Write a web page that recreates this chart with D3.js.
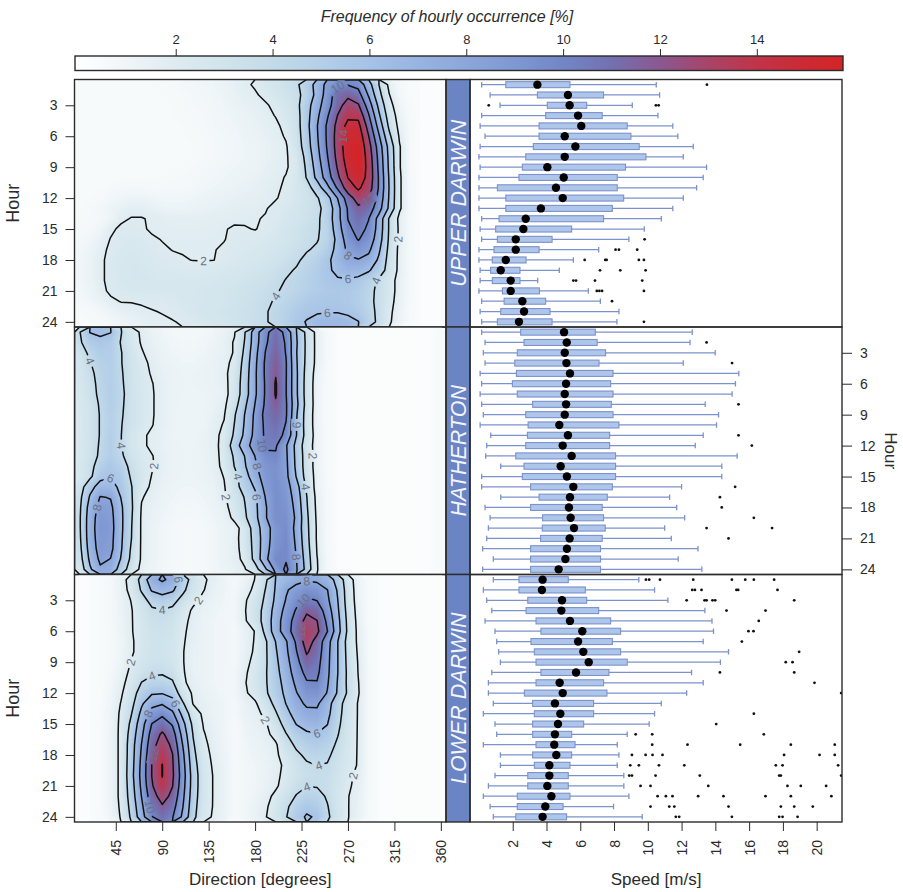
<!DOCTYPE html>
<html>
<head>
<meta charset="utf-8">
<script src="https://cdn.jsdelivr.net/npm/d3@7/dist/d3.min.js"></script>
<style>
  html, body { margin: 0; padding: 0; background: #ffffff; }
  svg { display: block; font-family: "Liberation Sans", Arial, Helvetica, sans-serif; }
</style>
</head>
<body>
<svg id="chart" width="903" height="892"></svg>
<script>
// ---------- categories & ticks ----------
const siteNames = ["UPPER DARWIN", "HATHERTON", "LOWER DARWIN"];
const directionBins = [10,20,30,40,50,60,70,80,90,100,110,120,130,140,150,160,170,180,
                       190,200,210,220,230,240,250,260,270,280,290,300,310,320,330,340,350,360];
const hourBins = [1,2,3,4,5,6,7,8,9,10,11,12,13,14,15,16,17,18,19,20,21,22,23,24];
const directionTicks = [45, 90, 135, 180, 225, 270, 315, 360];
const hourTicks = [3, 6, 9, 12, 15, 18, 21, 24];
const speedTicks = [2, 4, 6, 8, 10, 12, 14, 16, 18, 20];
const legendTicks = [2, 4, 6, 8, 10, 12, 14];
const contourLevels = [2, 4, 6, 8, 10, 12, 14];

// ---------- frequency of hourly occurrence [%], rows = hour 1..24, cols = direction 10..360 ----------
const freqUpperDarwin = [
 [0.5,0.5,0.5,0.5,0.5,0.5,0.6,0.6,0.7,0.7,0.8,0.9,1.0,1.1,1.3,1.5,1.85, 2.1,2.5,2.9,3.3,3.7,4.9,6.7,8.6,9.7,9.9,9.4,6.8,4.0,1.6,0.8,0.5,0.4,0.3,0.4],
 [0.5,0.5,0.5,0.5,0.5,0.5,0.6,0.6,0.6,0.7,0.7,0.8,0.9,1.0,1.2,1.4,1.7, 1.9,2.2,2.6,3.05,3.5,4.7,6.6,8.9,11.05,11.6,10.8,7.8,4.6,2.05,0.9,0.5,0.4,0.3,0.4],
 [0.5,0.5,0.5,0.5,0.5,0.5,0.5,0.6,0.6,0.6,0.7,0.8,0.9,1.0,1.1,1.3,1.5, 1.6,1.9,2.2,2.7,3.5,5.2,7.2,9.2,11.3,12.8,12.2,9.05,5.5,2.5,1.1,0.6,0.4,0.3,0.4],
 [0.5,0.5,0.5,0.5,0.5,0.5,0.5,0.5,0.6,0.6,0.7,0.7,0.8,0.9,1.0,1.2,1.3, 1.5,1.7,2.05,2.5,3.3,5.3,7.6,9.8,12.05,13.6,13.5,10.2,6.3,3.05,1.3,0.6,0.4,0.3,0.4],
 [0.5,0.5,0.5,0.5,0.5,0.5,0.5,0.5,0.6,0.6,0.6,0.7,0.8,0.9,1.0,1.1,1.3, 1.4,1.6,1.8,2.3,3.2,5.4,7.9,10.3,12.6,14.6,14.6,11.2,7.2,3.6,1.5,0.7,0.4,0.3,0.4],
 [0.5,0.5,0.5,0.5,0.5,0.5,0.5,0.5,0.5,0.6,0.6,0.7,0.7,0.8,0.9,1.0,1.2, 1.3,1.5,1.7,2.1,3.1,5.2,7.8,10.3,12.8,15.05,15.3,12.05,8.2,4.4,1.8,0.7,0.4,0.3,0.4],
 [0.5,0.5,0.5,0.5,0.5,0.5,0.5,0.5,0.5,0.6,0.6,0.6,0.7,0.8,0.9,1.0,1.1, 1.2,1.4,1.6,1.9,2.9,5.05,7.6,10.2,12.8,15.2,15.7,12.8,9.05,5.3,2.1,0.7,0.4,0.3,0.4],
 [0.5,0.5,0.5,0.5,0.5,0.5,0.5,0.5,0.5,0.6,0.6,0.6,0.7,0.8,0.9,1.0,1.1, 1.2,1.4,1.6,1.9,2.5,4.6,7.3,9.9,12.6,15.05,15.8,13.2,9.4,5.5,2.1,0.7,0.4,0.3,0.4],
 [0.5,0.5,0.5,0.5,0.5,0.5,0.5,0.5,0.6,0.6,0.6,0.7,0.8,0.9,1.0,1.1,1.2, 1.3,1.5,1.7,1.9,2.4,4.3,6.9,9.5,12.2,14.6,15.6,13.4,9.6,5.6,2.1,0.7,0.4,0.3,0.4],
 [0.5,0.5,0.5,0.5,0.6,0.6,0.6,0.6,0.6,0.7,0.7,0.8,0.9,1.0,1.1,1.2,1.3, 1.4,1.6,1.8,2.05,2.5,4.1,6.5,9.05,11.6,14.05,15.2,13.4,9.8,5.8,2.2,0.8,0.4,0.3,0.4],
 [0.5,0.5,0.6,0.7,0.8,0.8,0.8,0.7,0.7,0.8,0.8,0.9,1.0,1.1,1.2,1.3,1.4, 1.5,1.7,1.9,2.1,2.6,3.3,4.9,7.4,10.3,13.05,14.3,13.05,9.8,5.9,2.2,0.8,0.4,0.3,0.4],
 [0.5,0.6,0.7,0.9,1.1,1.2,1.2,1.1,1.0,1.0,1.0,1.1,1.2,1.3,1.4,1.5,1.6, 1.6,1.8,1.95,2.2,2.6,3.1,3.8,5.2,8.05,11.05,12.9,12.2,9.4,5.8,2.2,0.8,0.4,0.3,0.4],
 [0.6,0.7,0.9,1.2,1.5,1.7,1.7,1.5,1.3,1.2,1.2,1.3,1.4,1.5,1.6,1.7,1.8, 1.85,1.95,2.2,2.4,2.8,3.2,3.6,4.6,7.3,10.2,11.6,11.05,8.8,5.6,2.2,0.8,0.4,0.3,0.4],
 [0.6,0.7,0.8,1.2,1.8,2.05,2.05,1.9,1.8,1.75,1.7,1.7,1.7,1.75,1.8,1.85,1.9, 1.95,2.05,2.3,2.6,2.9,3.3,3.7,4.8,7.3,10.05,11.0,10.05,7.3,3.8,1.6,0.7,0.4,0.3,0.4],
 [0.7,0.8,1.1,1.8,2.2,2.2,2.1,1.9,1.8,1.8,1.8,1.8,1.8,1.85,1.95,2.1,2.05, 1.97,2.15,2.4,2.8,3.1,3.5,3.8,4.6,7.05,9.6,10.6,9.7,7.2,3.8,1.7,0.7,0.4,0.3,0.4],
 [0.8,1.0,1.4,2.05,2.3,2.4,2.3,2.1,1.97,1.9,1.9,1.9,1.9,1.92,1.97,2.2,2.3, 2.3,2.4,2.6,2.9,3.2,3.6,3.9,4.6,6.5,9.05,10.1,9.2,6.9,3.7,1.7,0.7,0.4,0.3,0.4],
 [0.9,1.2,1.7,2.2,2.4,2.5,2.4,2.3,2.1,1.98,1.95,1.95,1.95,1.97,2.1,2.3,2.4, 2.5,2.6,2.8,3.1,3.5,3.9,4.2,5.05,6.6,8.4,9.05,8.4,6.3,3.5,1.6,0.7,0.4,0.3,0.4],
 [1.0,1.3,1.8,2.3,2.5,2.6,2.5,2.4,2.3,2.15,2.05,1.98,1.97,1.99,2.2,2.4,2.5, 2.6,2.8,3.05,3.4,3.8,4.3,4.8,5.6,6.8,7.7,7.9,7.4,5.7,3.3,1.6,0.7,0.4,0.3,0.4],
 [1.0,1.3,1.8,2.3,2.5,2.6,2.6,2.5,2.4,2.4,2.3,2.3,2.3,2.4,2.5,2.6,2.7, 2.9,3.1,3.4,3.8,4.1,4.6,5.1,5.7,6.4,6.9,6.8,6.2,5.05,3.2,1.6,0.7,0.4,0.3,0.4],
 [1.0,1.3,1.8,2.3,2.5,2.6,2.6,2.6,2.5,2.5,2.5,2.5,2.5,2.6,2.7,2.8,3.05, 3.2,3.4,3.7,4.05,4.4,4.8,5.2,5.6,5.8,5.8,5.5,4.8,3.7,2.6,1.5,0.7,0.4,0.3,0.4],
 [0.9,1.2,1.7,2.2,2.4,2.5,2.5,2.5,2.5,2.5,2.5,2.6,2.7,2.8,2.9,3.05,3.2, 3.4,3.6,3.9,4.2,4.5,4.9,5.2,5.4,5.5,5.4,5.1,4.5,3.6,2.6,1.5,0.7,0.4,0.3,0.4],
 [0.8,1.0,1.3,1.8,2.05,2.05,2.1,2.2,2.3,2.4,2.5,2.6,2.7,2.8,2.9,3.1,3.3, 3.5,3.8,4.1,4.5,4.9,5.3,5.5,5.6,5.6,5.4,5.05,4.4,3.6,2.5,1.4,0.7,0.4,0.3,0.4],
 [0.6,0.7,0.9,1.2,1.5,1.7,1.85,1.95,2.05,2.2,2.4,2.6,2.8,2.9,3.05,3.2,3.4, 3.6,3.9,4.3,4.8,5.3,5.6,5.8,5.9,5.9,5.7,5.3,4.6,3.6,2.3,1.3,0.6,0.4,0.3,0.4],
 [0.5,0.6,0.7,0.9,1.1,1.3,1.5,1.7,1.85,1.95,2.1,2.3,2.5,2.7,2.9,3.1,3.3, 3.6,3.9,4.3,4.9,5.5,6.1,6.6,6.8,6.8,6.5,6.05,4.8,3.6,2.2,1.2,0.6,0.4,0.3,0.4]
];

const freqHatherton = [
 [3.9,6.05,6.3,6.05,4.1,2.6,1.8,1.4, 1.1,0.9,0.8,0.8,0.9,1.1, 1.4,1.9,3.9,7.05,9.5,11.0,9.5,6.05,3.5,1.5, 0.7,0.4,0.3,0.3,0.3,0.3,0.3,0.3,0.3,0.3,0.4,0.6],
 [3.7,5.2,5.6,5.3,3.9,2.6,1.9,1.5, 1.2,1.0,0.9,0.9,1.0,1.2, 1.5,2.1,4.1,7.1,9.7,11.2,9.8,6.2,3.6,1.5, 0.7,0.4,0.3,0.3,0.3,0.3,0.3,0.3,0.3,0.3,0.4,0.6],
 [3.1,4.4,5.2,5.1,4.1,2.9,2.1,1.6, 1.3,1.1,1.0,1.0,1.1,1.3, 1.5,2.1,4.4,7.4,10.05,11.5,9.9,6.1,3.6,1.5, 0.7,0.4,0.3,0.3,0.3,0.3,0.3,0.3,0.3,0.3,0.4,0.6],
 [2.9,3.9,4.8,5.05,4.1,3.05,2.3,1.8, 1.4,1.2,1.1,1.1,1.2,1.4, 1.6,2.4,4.7,7.6,10.3,11.8,10.1,6.2,3.5,1.5, 0.7,0.4,0.3,0.3,0.3,0.3,0.3,0.3,0.3,0.3,0.4,0.6],
 [2.7,3.6,4.6,5.05,4.2,3.1,2.4,1.9, 1.5,1.3,1.2,1.2,1.3,1.4, 1.7,2.6,4.9,7.7,10.3,11.9,10.1,6.3,3.3,1.3, 0.6,0.4,0.3,0.3,0.3,0.3,0.3,0.3,0.3,0.3,0.4,0.6],
 [2.6,3.4,4.5,5.05,4.3,3.1,2.5,2.05, 1.6,1.3,1.2,1.2,1.3,1.4, 1.6,2.7,5.05,7.7,10.2,12.15,10.05,6.3,3.2,1.2, 0.6,0.4,0.3,0.3,0.3,0.3,0.3,0.3,0.3,0.3,0.4,0.6],
 [2.5,3.3,4.4,5.05,4.4,3.2,2.5,2.1, 1.6,1.3,1.2,1.2,1.2,1.3, 1.5,2.8,5.05,7.7,10.2,12.15,10.05,6.3,3.2,1.2, 0.6,0.4,0.3,0.3,0.3,0.3,0.3,0.3,0.3,0.3,0.4,0.6],
 [2.4,3.1,4.2,5.05,4.3,3.2,2.6,2.1, 1.6,1.3,1.1,1.1,1.2,1.4, 1.7,3.2,5.6,8.05,10.3,11.8,10.2,6.5,3.3,1.2, 0.6,0.4,0.3,0.3,0.3,0.3,0.3,0.3,0.3,0.3,0.4,0.6],
 [2.4,3.05,4.1,4.9,4.2,3.2,2.6,2.1, 1.6,1.3,1.1,1.1,1.2,1.5, 1.9,3.8,6.05,8.4,10.6,11.4,10.2,6.2,3.1,1.2, 0.6,0.4,0.3,0.3,0.3,0.3,0.3,0.3,0.3,0.3,0.4,0.6],
 [2.4,3.05,4.1,4.9,4.1,3.1,2.5,2.05, 1.6,1.3,1.1,1.1,1.2,1.6, 2.1,4.05,6.2,8.5,10.4,11.0,9.9,6.05,3.1,1.2, 0.6,0.4,0.3,0.3,0.3,0.3,0.3,0.3,0.3,0.3,0.4,0.6],
 [2.4,3.05,4.1,5.05,4.05,2.8,2.2,1.8, 1.5,1.2,1.1,1.1,1.3,1.7, 2.3,4.3,6.4,8.6,10.3,10.7,9.6,6.05,3.2,1.3, 0.6,0.4,0.3,0.3,0.3,0.3,0.3,0.3,0.3,0.3,0.4,0.6],
 [2.4,3.1,4.2,5.05,4.05,2.8,2.2,1.8, 1.5,1.3,1.2,1.2,1.4,1.6, 2.5,5.05,7.05,9.05,10.4,10.2,8.2,5.4,2.9,1.3, 0.6,0.4,0.3,0.3,0.3,0.3,0.3,0.3,0.3,0.3,0.4,0.6],
 [2.4,3.2,4.3,5.1,4.3,3.1,2.4,2.05, 1.6,1.3,1.2,1.2,1.3,1.6, 2.4,4.3,6.05,8.05,9.5,9.8,8.3,5.5,3.05,1.3, 0.6,0.4,0.3,0.3,0.3,0.3,0.3,0.3,0.3,0.3,0.4,0.6],
 [2.5,3.4,4.9,5.5,4.9,3.5,2.6,2.1, 1.6,1.3,1.2,1.2,1.3,1.6, 2.3,4.05,5.8,7.7,9.1,9.4,8.4,5.6,3.05,1.3, 0.6,0.4,0.3,0.3,0.3,0.3,0.3,0.3,0.3,0.3,0.4,0.6],
 [2.4,3.6,5.5,5.9,5.3,3.8,2.7,1.95, 1.5,1.3,1.2,1.2,1.3,1.5, 2.05,3.4,5.2,7.2,8.9,9.4,8.5,5.9,3.2,1.4, 0.6,0.4,0.3,0.3,0.3,0.3,0.3,0.3,0.3,0.3,0.4,0.6],
 [3.05,5.4,6.7,6.6,5.6,4.1,2.5,1.8, 1.4,1.2,1.1,1.1,1.2,1.4, 1.9,3.2,4.9,6.2,8.6,9.5,8.8,6.8,3.7,1.3, 0.7,0.4,0.3,0.3,0.3,0.3,0.3,0.3,0.3,0.3,0.4,0.6],
 [3.5,6.2,8.1,7.9,5.95,4.2,2.1,1.6, 1.3,1.1,1.0,1.0,1.1,1.3, 1.8,2.9,4.1,5.6,8.05,9.5,9.05,7.2,4.05,1.5, 0.7,0.4,0.3,0.3,0.3,0.3,0.3,0.3,0.3,0.3,0.4,0.6],
 [3.7,6.8,8.6,8.4,6.3,4.3,1.9,1.5, 1.2,1.0,0.9,0.9,1.0,1.2, 1.6,2.6,3.9,5.5,7.8,9.5,9.2,7.5,4.2,1.6, 0.7,0.4,0.3,0.3,0.3,0.3,0.3,0.3,0.3,0.3,0.4,0.6],
 [3.8,7.05,8.9,8.6,6.4,4.2,1.8,1.4, 1.1,0.9,0.8,0.8,0.9,1.1, 1.4,2.3,3.7,5.4,7.8,9.5,9.4,7.7,4.4,1.7, 0.7,0.4,0.3,0.3,0.3,0.3,0.3,0.3,0.3,0.3,0.4,0.6],
 [3.8,7.1,9.05,8.7,6.4,4.1,1.8,1.3, 1.0,0.8,0.7,0.7,0.8,1.0, 1.3,1.5,2.6,5.05,7.05,9.05,9.6,7.4,4.5,1.8, 0.7,0.4,0.3,0.3,0.3,0.3,0.3,0.3,0.3,0.3,0.4,0.6],
 [3.7,7.05,8.9,8.6,6.3,4.05,1.8,1.3, 1.0,0.8,0.7,0.7,0.8,1.0, 1.3,1.6,2.6,4.8,7.05,9.1,9.7,7.6,4.6,1.8, 0.7,0.4,0.3,0.3,0.3,0.3,0.3,0.3,0.3,0.3,0.4,0.6],
 [3.5,6.8,8.8,8.5,6.2,3.8,1.8,1.3, 1.0,0.8,0.7,0.7,0.8,1.0, 1.3,1.6,2.5,4.7,7.2,9.3,9.8,7.8,4.8,1.9, 0.7,0.4,0.3,0.3,0.3,0.3,0.3,0.3,0.3,0.3,0.4,0.6],
 [3.2,6.4,8.4,7.95,5.9,3.6,1.8,1.3, 1.0,0.8,0.7,0.7,0.8,1.0, 1.3,1.6,2.3,4.6,7.5,9.7,9.8,8.05,5.05,2.05, 0.8,0.4,0.3,0.3,0.3,0.3,0.3,0.3,0.3,0.3,0.4,0.6],
 [2.7,5.7,7.7,7.4,5.1,3.05,1.6,1.2, 1.0,0.8,0.7,0.7,0.8,1.0, 1.2,1.5,1.9,3.2,5.7,8.6,10.4,8.2,5.3,2.1, 0.8,0.4,0.3,0.3,0.3,0.3,0.3,0.3,0.3,0.3,0.4,0.6]
];

const freqLowerDarwin = [
 [0.3,0.4,0.5, 0.8,1.4,2.6,4.6,7.3,8.3,7.4,5.05,3.2,2.2,1.6,1.2, 0.8,1.2,2.05,3.6,6.05,6.8,7.4,7.8,7.6,6.9,5.4,2.8,1.2,0.6, 0.4,0.3,0.3,0.3,0.3,0.3,0.3],
 [0.3,0.4,0.5, 0.8,1.4,2.4,4.2,6.2,6.8,6.3,4.4,2.9,2.05,1.5,1.2, 0.8,1.5,2.3,4.05,6.2,7.8,8.7,9.3,9.05,8.05,5.8,3.05,1.2,0.6, 0.4,0.3,0.3,0.3,0.3,0.3,0.3],
 [0.3,0.4,0.5, 0.8,1.3,2.05,3.3,4.6,5.05,4.6,3.4,2.3,1.7,1.3,1.1, 0.9,1.8,2.9,4.3,6.4,8.1,9.4,10.3,9.95,8.4,6.05,3.1,1.3,0.6, 0.4,0.3,0.3,0.3,0.3,0.3,0.3],
 [0.3,0.4,0.5, 0.8,1.3,1.9,2.9,3.7,3.9,3.6,2.6,1.8,1.4,1.2,1.0, 0.9,1.9,3.1,4.6,6.8,8.6,10.2,11.7,11.2,9.05,6.3,3.3,1.4,0.6, 0.4,0.3,0.3,0.3,0.3,0.3,0.3],
 [0.3,0.4,0.5, 0.8,1.2,1.9,2.7,3.4,3.5,3.2,2.3,1.7,1.3,1.1,1.0, 0.9,1.8,3.05,4.7,7.05,9.05,10.8,12.6,12.05,9.6,6.6,3.5,1.5,0.6, 0.4,0.3,0.3,0.3,0.3,0.3,0.3],
 [0.3,0.4,0.5, 0.7,1.2,1.9,2.6,3.2,3.3,3.05,2.2,1.6,1.3,1.1,1.0, 0.8,1.4,2.05,4.5,7.05,9.1,11.05,13.1,12.4,10.05,6.8,3.6,1.6,0.7, 0.4,0.3,0.3,0.3,0.3,0.3,0.3],
 [0.3,0.4,0.5, 0.7,1.1,1.8,2.6,3.1,3.1,2.9,2.1,1.6,1.3,1.1,1.0, 0.8,1.4,2.1,3.7,6.05,7.8,10.3,13.0,11.3,8.8,6.05,3.3,1.7,0.7, 0.4,0.3,0.3,0.3,0.3,0.3,0.3],
 [0.3,0.4,0.5, 0.7,1.1,1.8,2.6,3.1,3.1,2.8,2.05,1.5,1.3,1.1,1.0, 0.8,1.4,2.2,3.7,5.8,7.6,9.9,12.2,11.05,8.6,6.05,3.4,1.8,0.7, 0.4,0.3,0.3,0.3,0.3,0.3,0.3],
 [0.3,0.4,0.5, 0.7,1.2,2.05,2.8,3.3,3.3,2.9,2.05,1.5,1.3,1.1,1.0, 0.8,1.6,2.4,3.7,5.6,7.3,9.4,11.4,10.7,8.5,6.05,3.5,1.9,0.7, 0.4,0.3,0.3,0.3,0.3,0.3,0.3],
 [0.3,0.4,0.5, 0.8,1.4,2.3,3.2,3.7,3.8,3.4,2.1,1.5,1.3,1.1,1.0, 0.9,1.8,2.6,3.8,5.4,7.05,8.9,10.6,10.4,8.4,6.05,3.6,1.95,0.8, 0.4,0.3,0.3,0.3,0.3,0.3,0.3],
 [0.3,0.4,0.5, 0.9,1.6,2.6,4.05,4.6,4.7,4.2,2.2,1.6,1.3,1.1,1.0, 0.9,1.9,2.7,3.8,5.2,6.7,8.4,9.8,9.9,8.2,5.9,3.6,2.05,0.8, 0.4,0.3,0.3,0.3,0.3,0.3,0.3],
 [0.3,0.4,0.5, 1.0,1.8,3.05,4.9,5.8,5.9,5.3,2.9,1.8,1.4,1.2,1.0, 0.9,1.8,2.5,3.7,5.05,6.4,7.9,9.1,9.2,7.9,5.8,3.7,2.1,0.8, 0.4,0.3,0.3,0.3,0.3,0.3,0.3],
 [0.3,0.4,0.5, 1.1,2.05,3.4,5.7,7.4,7.8,6.8,4.2,1.9,1.6,1.3,1.1, 0.8,1.4,1.8,3.05,4.5,6.05,7.4,8.3,8.3,6.8,4.8,3.1,1.9,0.8, 0.4,0.3,0.3,0.3,0.3,0.3,0.3],
 [0.3,0.4,0.6, 1.2,2.2,3.9,6.5,8.8,9.6,8.4,5.4,2.9,1.7,1.3,1.1, 0.8,1.3,1.6,2.3,3.8,5.4,6.8,7.5,7.6,6.5,4.6,3.05,1.9,0.8, 0.4,0.3,0.3,0.3,0.3,0.3,0.3],
 [0.3,0.4,0.6, 1.1,2.3,4.4,7.2,10.05,11.0,9.8,6.6,3.5,1.9,1.4,1.1, 0.7,1.2,1.5,1.8,3.1,4.7,6.05,6.7,6.9,6.05,4.4,2.9,1.9,0.8, 0.4,0.3,0.3,0.3,0.3,0.3,0.3],
 [0.3,0.4,0.6, 1.2,2.3,4.8,7.6,10.8,12.3,10.9,7.3,3.9,2.1,1.5,1.1, 0.7,1.1,1.4,1.6,2.5,3.9,5.05,5.7,5.9,5.4,4.1,2.8,1.9,0.8, 0.4,0.3,0.3,0.3,0.3,0.3,0.3],
 [0.3,0.4,0.6, 1.2,2.3,5.05,8.05,11.3,13.0,11.6,7.9,4.2,2.3,1.6,1.2, 0.7,1.0,1.3,1.5,1.8,3.3,4.3,4.9,5.2,4.8,3.7,2.7,1.9,0.8, 0.4,0.3,0.3,0.3,0.3,0.3,0.3],
 [0.3,0.4,0.6, 1.2,2.3,5.1,8.3,11.7,13.6,12.05,8.4,4.5,2.5,1.7,1.2, 0.7,1.0,1.2,1.4,1.7,2.8,3.7,4.3,4.5,4.3,3.4,2.6,1.9,0.8, 0.4,0.3,0.3,0.3,0.3,0.3,0.3],
 [0.3,0.4,0.6, 1.2,2.3,5.2,8.5,12.05,14.05,12.2,8.7,4.8,2.7,1.8,1.3, 0.7,0.9,1.1,1.3,1.6,2.3,3.2,3.8,4.02,3.9,3.2,2.5,1.9,0.8, 0.4,0.3,0.3,0.3,0.3,0.3,0.3],
 [0.3,0.4,0.6, 1.2,2.3,5.3,8.6,12.05,14.05,12.3,8.9,5.05,2.8,1.9,1.3, 0.7,0.9,1.1,1.3,1.7,2.4,3.1,3.6,3.8,3.7,3.05,2.3,1.7,0.8, 0.4,0.3,0.3,0.3,0.3,0.3,0.3],
 [0.3,0.4,0.6, 1.2,2.3,5.1,8.4,11.8,13.7,12.05,8.7,5.05,2.8,1.9,1.3, 0.7,0.9,1.1,1.4,1.8,2.6,3.5,3.95,3.9,3.6,2.9,2.2,1.6,0.8, 0.4,0.3,0.3,0.3,0.3,0.3,0.3],
 [0.3,0.4,0.6, 1.2,2.3,4.9,8.05,11.2,12.8,11.5,8.4,4.9,2.8,1.9,1.3, 0.7,0.9,1.2,1.6,2.3,3.2,4.1,4.8,4.6,3.8,2.8,2.05,1.5,0.8, 0.4,0.3,0.3,0.3,0.3,0.3,0.3],
 [0.3,0.4,0.6, 1.2,2.2,4.6,7.6,10.5,11.8,10.8,8.05,4.7,2.7,1.9,1.3, 0.7,1.0,1.3,1.8,2.6,3.7,4.8,5.5,5.2,4.1,2.9,2.05,1.4,0.7, 0.4,0.3,0.3,0.3,0.3,0.3,0.3],
 [0.3,0.4,0.6, 1.1,2.1,4.3,7.2,9.9,11.0,10.1,7.6,4.5,2.6,1.8,1.3, 0.7,1.0,1.4,1.9,2.9,3.9,5.3,6.2,5.8,4.3,3.05,2.05,1.4,0.7, 0.4,0.3,0.3,0.3,0.3,0.3,0.3]
];

// ---------- wind speed [m/s] by hour: [lower whisker, Q1, median, Q3, upper whisker] ----------
const speedUpperDarwin = [
 [0.16,1.59,3.46,5.39,10.5],[0.66,3.46,5.27,7.38,10.7],[1.25,4.05,5.37,6.38,9.08],[0.16,3.95,5.87,7.30,10.6],
 [0.07,3.56,6.06,8.78,11.48],[0.36,3.56,5.08,9.0,11.78],[0.07,3.22,5.71,9.49,12.69],[0.0,2.77,5.08,9.89,12.1],
 [0.07,2.57,4.05,8.68,13.48],[0.0,2.37,5.02,8.19,13.28],[0.0,1.09,4.56,8.19,12.89],[0.0,1.59,4.96,8.57,12.1],
 [0.0,1.59,3.67,7.9,11.48],[0.16,1.19,2.77,7.38,10.8],[0.07,0.99,2.63,5.49,9.79],[0.16,1.09,2.18,4.33,8.88],
 [0.0,0.89,2.18,3.56,7.09],[0.0,0.79,1.59,2.79,5.59],[0.07,0.69,1.29,2.43,4.76],[0.07,0.79,1.88,2.43,3.48],
 [0.0,1.39,1.88,3.58,6.48],[0.16,1.49,2.57,3.95,7.19],[0.07,1.29,2.67,4.21,8.29],[0.16,1.09,2.37,4.33,8.17]
];
const outliersUpperDarwin = [
 [13.5],[],[0.58,10.48,10.64],[],[],[],[],[],[],[],[],[],[],[],[],[9.81],
 [8.09,8.29,9.37],[6.26,7.48,7.56,9.47,9.77],[7.17,8.37,9.87],[5.59,5.75,6.87,9.67],
 [6.98,7.13,7.29,9.77],[7.88],[],[9.77]
];
const speedHatherton = [
 [0.16,2.47,5.04,6.89,12.63],[0.36,2.67,5.20,7.0,12.5],[0.26,2.27,5.08,7.5,13.99],[0.36,2.12,5.18,7.11,12.1],
 [0.07,2.22,5.39,7.94,15.39],[0.16,1.98,5.16,7.8,15.19],[0.07,2.27,5.08,7.94,14.99],[0.16,3.18,5.16,7.84,13.4],
 [0.26,2.77,5.08,7.94,14.19],[0.07,2.91,4.76,8.29,14.07],[0.70,2.87,5.27,7.74,13.28],[0.46,2.77,4.96,7.74,12.81],
 [0.40,2.18,5.49,8.09,15.29],[1.29,2.67,4.84,8.09,14.38],[0.16,2.57,5.21,8.09,14.38],[0.16,3.06,5.59,7.9,12.0],
 [1.29,3.56,5.39,7.6,11.29],[0.36,3.06,5.33,7.3,11.71],[0.66,3.77,5.43,7.38,12.18],[0.56,3.75,5.63,7.48,11.0],
 [0.46,3.65,5.37,7.3,11.39],[0.22,3.06,5.21,7.2,12.97],[0.85,3.06,5.12,7.2,11.8],[0.22,3.06,4.72,7.2,13.2]
];
const outliersHatherton = [
 [],[13.48],[],[14.99],[],[],[],[15.37],[],[],[15.37],[16.16],[],[],[],[15.17],
 [14.27],[14.38],[16.28],[13.48,17.36],[14.78],[],[],[]
];
const speedLowerDarwin = [
 [0.85,2.37,3.77,5.29,9.47],[0.26,2.37,3.73,6.3,10.4],[0.46,2.89,4.92,6.38,11.19],[0.76,2.79,4.88,7.09,13.38],
 [0.36,3.38,5.39,7.8,13.8],[0.95,3.67,6.12,8.39,13.89],[1.05,3.08,5.87,7.9,13.28],[1.17,3.28,6.18,8.39,14.78],
 [1.27,3.38,6.5,8.78,14.3],[0.76,3.67,5.75,7.7,12.59],[0.56,3.38,4.78,7.38,13.28],[0.56,2.69,4.96,7.58,12.3],
 [0.85,3.18,4.5,6.79,10.8],[0.26,3.28,4.82,6.79,10.4],[0.95,3.18,4.68,6.2,10.08],[1.05,3.18,4.5,5.49,8.78],
 [0.26,3.38,4.46,5.69,8.19],[1.27,3.18,4.58,5.49,8.29],[1.27,3.28,4.17,5.39,8.19],[0.95,2.89,4.17,5.29,8.58],
 [0.56,2.89,4.05,5.29,8.58],[0.26,2.27,4.29,5.39,8.88],[0.66,2.27,3.93,4.98,7.97],[0.85,2.18,3.77,5.19,9.67]
];
const outliersLowerDarwin = [
 [9.89,10.08,10.72,12.69,14.98,15.77,16.28,17.48],[12.63,12.79,13.18,15.25,15.35,17.68],
 [12.3,13.36,13.48,13.83,13.99,18.67],[14.66,16.97],[16.57],[15.96,16.26],[15.57],[18.96],
 [18.17,18.57],[14.27,18.67],[19.87],[21.45],[],[16.28],[14.05],[9.28,10.26,16.87],
 [10.26,12.35,15.47,18.47,21.07],[9.06,9.87,10.28,10.87,18.07,20.17,21.07],
 [8.96,9.47,10.66,12.16,17.58,17.98,21.27],[8.9,9.06,10.46,13.08,17.78,17.88,21.45],
 [9.57,10.16,13.58,18.27,19.06,20.56],[10.58,11.07,11.46,12.98,14.48,16.97,18.47,20.87],
 [10.16,11.27,11.57,14.78,17.88,18.67,19.77],[11.66,11.86,14.98,17.78,17.98,18.87]
];

// ---------- contour labels: [level, direction, hour] ----------
const labelsUpperDarwin = [[10,263,1.4],[14,273.7,5.7],[12,283.4,12.0],[8,273.7,17.7],[6,272,19.8],
  [6,251,23.2],[4,206,21.6],[4,296,20.4],[2,315.7,15.9],[2,127,18.3]];
const labelsHatherton = [[4,17.4,3.5],[4,48,11.7],[2,82,13.8],[6,40,15.6],[8,30,18.0],[10,190,11.9],
  [6,219,9.9],[2,235,13.2],[4,229,16.4],[8,219,22.7],[4,164,14.9],[8,181.5,14.3],[2,153,17.2],[6,184,17.2]];
const labelsLowerDarwin = [[6,108,1.2],[2,124,2.7],[4,85,3.8],[2,61,9.0],[4,85,10.6],[6,101.4,13.2],
  [8,77,14.3],[12,90,18.5],[10,79,22.7],[8,232,1.5],[10,227.4,3.6],[12,227,6.2],[2,190,14.5],
  [6,238.6,15.8],[4,243,19.1],[4,230.6,21.9],[2,274,20.3]];

// ---------- colour ramp ----------
const rampValues = [0, 1, 2, 3, 4, 5, 6, 7, 8, 9, 10, 11, 12, 13, 14, 15, 15.8];
const rampColors = ["#ffffff","#f0f5f8","#deebf1","#d1e4ec","#c3dbe9","#b4cfe8","#a6c2e7","#98b4e1",
                    "#8ca6da","#7f98d2","#7286c6","#7470b0","#8a5890","#a84468","#c03448","#cc2a34","#d42426"];

// ---------- drawing ----------
const svg = d3.select("#chart");
const defs = svg.append("defs");

const L = { left: 74.5, split: 446, stripRight: 470, right: 842, top: 79.5, rowH: 247.5 };
const ink = "#2b2b2b";

const xDir = d3.scaleLinear().domain([5, 365]).range([L.left, L.split]);
const xSpeed = d3.scaleLinear().domain([-0.53, 21.5]).range([L.stripRight, L.right]);
const color = d3.scaleLinear().domain(rampValues).range(rampColors).clamp(true);

const sites = [
  { name: siteNames[0], freq: freqUpperDarwin, speed: speedUpperDarwin, out: outliersUpperDarwin, labels: labelsUpperDarwin },
  { name: siteNames[1], freq: freqHatherton, speed: speedHatherton, out: outliersHatherton, labels: labelsHatherton },
  { name: siteNames[2], freq: freqLowerDarwin, speed: speedLowerDarwin, out: outliersLowerDarwin, labels: labelsLowerDarwin }
];

const nx = directionBins.length, ny = hourBins.length;
const dStep = directionBins[1] - directionBins[0];
const hStep = hourBins[1] - hourBins[0];
const contourGen = d3.contours().size([nx, ny]).smooth(true);
const fillLevels = d3.range(0, 15.9, 0.1);

sites.forEach((site, r) => {
  const top = L.top + r * L.rowH, bottom = top + L.rowH;
  const yHour = d3.scaleLinear()
    .domain([hourBins[0] - hStep / 2, hourBins[ny - 1] + hStep / 2])
    .range([top, bottom]);
  const gx2px = gx => xDir(directionBins[0] - dStep / 2 + gx * dStep);
  const gy2px = gy => yHour(hourBins[0] - hStep / 2 + gy * hStep);
  const proj = d3.geoTransform({ point(x, y) { this.stream.point(gx2px(x), gy2px(y)); } });
  const path = d3.geoPath(proj);
  const values = site.freq.flat();

  // clip regions
  defs.append("clipPath").attr("id", "clipL" + r).append("rect")
    .attr("x", L.left).attr("y", top).attr("width", L.split - L.left).attr("height", L.rowH);
  defs.append("clipPath").attr("id", "clipR" + r).append("rect")
    .attr("x", L.stripRight).attr("y", top).attr("width", L.right - L.stripRight).attr("height", L.rowH);

  // filled density surface
  const fillG = svg.append("g").attr("clip-path", `url(#clipL${r})`);
  fillG.selectAll("path").data(contourGen.thresholds(fillLevels)(values)).join("path")
    .attr("d", path).attr("fill", d => color(d.value + 0.05)).attr("stroke", "none");

  // label positions snapped onto their contour lines
  const lineGeoms = new Map(contourGen.thresholds(contourLevels)(values).map(g => [g.value, g]));
  const placed = [];
  site.labels.forEach(([lev, dir, hr]) => {
    const geom = lineGeoms.get(lev);
    if (!geom) return;
    const tx = xDir(dir), ty = yHour(hr);
    let best = null;
    geom.coordinates.forEach(poly => poly.forEach(ring => {
      const n = ring.length - 1;
      for (let i = 0; i < n; i++) {
        const [gx, gy] = ring[i];
        if (gx < 1e-6 || gx > nx - 1e-6 || gy < 1e-6 || gy > ny - 1e-6) continue;
        const px = gx2px(gx), py = gy2px(gy);
        const d = (px - tx) ** 2 + (py - ty) ** 2;
        if (!best || d < best.d) {
          const a = ring[(i - 1 + n) % n], b = ring[(i + 1) % n];
          let ang = Math.atan2(gy2px(b[1]) - gy2px(a[1]), gx2px(b[0]) - gx2px(a[0])) * 180 / Math.PI;
          if (ang > 90) ang -= 180;
          if (ang < -90) ang += 180;
          best = { d, px, py, ang };
        }
      }
    }));
    if (best) placed.push({ lev, ...best });
  });

  const mask = defs.append("mask").attr("id", "gap" + r).attr("maskUnits", "userSpaceOnUse")
    .attr("x", 0).attr("y", 0).attr("width", 903).attr("height", 892);
  mask.append("rect").attr("x", 0).attr("y", 0).attr("width", 903).attr("height", 892).attr("fill", "#fff");
  placed.forEach(p => {
    const w = String(p.lev).length * 7 + 5;
    mask.append("rect").attr("x", -w / 2).attr("y", -5.5).attr("width", w).attr("height", 11)
      .attr("transform", `translate(${p.px},${p.py}) rotate(${p.ang})`).attr("fill", "#000");
  });

  const lineG = svg.append("g").attr("clip-path", `url(#clipL${r})`)
    .append("g").attr("mask", `url(#gap${r})`);
  lineG.selectAll("path").data([...lineGeoms.values()]).join("path")
    .attr("d", path).attr("fill", "none").attr("stroke", "#111").attr("stroke-width", 1.5)
    .attr("stroke-linejoin", "round");

  svg.append("g").selectAll("text").data(placed).join("text")
    .attr("transform", p => `translate(${p.px},${p.py}) rotate(${p.ang})`)
    .attr("text-anchor", "middle").attr("dy", "0.36em")
    .attr("font-size", 12).attr("fill", "#6e7280").text(p => p.lev);

  // wind speed boxplots
  const bx = svg.append("g").attr("clip-path", `url(#clipR${r})`);
  const boxH = 6, capH = 5.5, whisk = "#7b92cc";
  site.speed.forEach((s, i) => {
    const y = yHour(hourBins[i]);
    bx.append("line").attr("x1", xSpeed(s[0])).attr("x2", xSpeed(s[4])).attr("y1", y).attr("y2", y)
      .attr("stroke", whisk).attr("stroke-width", 1.3);
    [s[0], s[4]].forEach(v => bx.append("line").attr("x1", xSpeed(v)).attr("x2", xSpeed(v))
      .attr("y1", y - capH / 2).attr("y2", y + capH / 2).attr("stroke", whisk).attr("stroke-width", 1.3));
    bx.append("rect").attr("x", xSpeed(s[1])).attr("y", y - boxH / 2)
      .attr("width", xSpeed(s[3]) - xSpeed(s[1])).attr("height", boxH)
      .attr("fill", "#adc6ea").attr("stroke", whisk).attr("stroke-width", 1.1);
    site.out[i].forEach(v => bx.append("circle").attr("cx", xSpeed(v)).attr("cy", y).attr("r", 1.4).attr("fill", "#111"));
    bx.append("circle").attr("cx", xSpeed(s[2])).attr("cy", y).attr("r", 4.2).attr("fill", "#000");
  });

  // strip with site name
  svg.append("rect").attr("x", L.split).attr("y", top).attr("width", L.stripRight - L.split).attr("height", L.rowH)
    .attr("fill", "#6b84c4").attr("stroke", ink).attr("stroke-width", 1.4);
  svg.append("text")
    .attr("transform", `translate(${(L.split + L.stripRight) / 2 + 0.5},${(top + bottom) / 2}) rotate(-90)`)
    .attr("text-anchor", "middle").attr("dy", "0.36em").attr("font-size", 21.5).attr("font-style", "italic")
    .attr("fill", "#f2f5fb").text(site.name);

  // panel frames
  svg.append("rect").attr("x", L.left).attr("y", top).attr("width", L.split - L.left).attr("height", L.rowH)
    .attr("fill", "none").attr("stroke", ink).attr("stroke-width", 1.4);
  svg.append("rect").attr("x", L.stripRight).attr("y", top).attr("width", L.right - L.stripRight).attr("height", L.rowH)
    .attr("fill", "none").attr("stroke", ink).attr("stroke-width", 1.4);

  // hour axes
  if (r !== 1) {
    const ax = svg.append("g").attr("transform", `translate(${L.left},0)`)
      .call(d3.axisLeft(yHour).tickValues(hourTicks).tickSize(9).tickPadding(8));
    ax.select(".domain").remove();
    ax.selectAll("line").attr("stroke", ink);
    ax.selectAll("text").attr("font-size", 14).attr("fill", ink).attr("font-family", null);
    svg.append("text").attr("transform", `translate(19,${(top + bottom) / 2}) rotate(-90)`)
      .attr("text-anchor", "middle").attr("font-size", 18).attr("fill", ink).text("Hour");
  } else {
    const ax = svg.append("g").attr("transform", `translate(${L.right},0)`)
      .call(d3.axisRight(yHour).tickValues(hourTicks).tickSize(10).tickPadding(8));
    ax.select(".domain").remove();
    ax.selectAll("line").attr("stroke", ink);
    ax.selectAll("text").attr("font-size", 14).attr("fill", ink).attr("font-family", null);
    svg.append("text").attr("transform", `translate(885,${(top + bottom) / 2}) rotate(90)`)
      .attr("text-anchor", "middle").attr("font-size", 17).attr("fill", ink).text("Hour");
  }
});

// bottom axes
const axisBottomY = L.top + 3 * L.rowH;
function rotatedBottomAxis(scale, ticks, title, cx) {
  const ax = svg.append("g").attr("transform", `translate(0,${axisBottomY})`)
    .call(d3.axisBottom(scale).tickValues(ticks).tickSize(9));
  ax.select(".domain").remove();
  ax.selectAll("line").attr("stroke", ink);
  ax.selectAll("text").attr("font-size", 14).attr("fill", ink).attr("font-family", null)
    .attr("transform", "rotate(-90)").attr("text-anchor", "end")
    .attr("x", -18).attr("y", 0).attr("dy", "0.36em");
  svg.append("text").attr("x", cx).attr("y", 885).attr("text-anchor", "middle")
    .attr("font-size", 17).attr("fill", ink).text(title);
}
rotatedBottomAxis(xDir, directionTicks, "Direction [degrees]", (L.left + L.split) / 2);
rotatedBottomAxis(xSpeed, speedTicks, "Speed [m/s]", (L.stripRight + L.right) / 2);

// colour key
const xKey = d3.scaleLinear().domain([-0.08, 15.78]).range([75, 843]);
const grad = defs.append("linearGradient").attr("id", "keyGrad")
  .attr("gradientUnits", "userSpaceOnUse").attr("x1", xKey.range()[0]).attr("x2", xKey.range()[1]).attr("y1", 0).attr("y2", 0);
rampValues.forEach((v, i) => grad.append("stop")
  .attr("offset", (xKey(v) - xKey.range()[0]) / (xKey.range()[1] - xKey.range()[0]))
  .attr("stop-color", rampColors[i]));
svg.append("rect").attr("x", 75).attr("y", 56).attr("width", 768).attr("height", 14.5)
  .attr("fill", "url(#keyGrad)").attr("stroke", ink).attr("stroke-width", 1.4);
const keyAx = svg.append("g").attr("transform", "translate(0,56)")
  .call(d3.axisTop(xKey).tickValues(legendTicks).tickSize(7).tickPadding(5));
keyAx.select(".domain").remove();
keyAx.selectAll("line").attr("stroke", ink);
keyAx.selectAll("text").attr("font-size", 13).attr("fill", ink).attr("font-family", null);
svg.append("text").attr("x", 447).attr("y", 22).attr("text-anchor", "middle")
  .attr("font-size", 16).attr("font-style", "italic").attr("fill", ink)
  .text("Frequency of hourly occurrence [%]");
</script>
</body>
</html>
